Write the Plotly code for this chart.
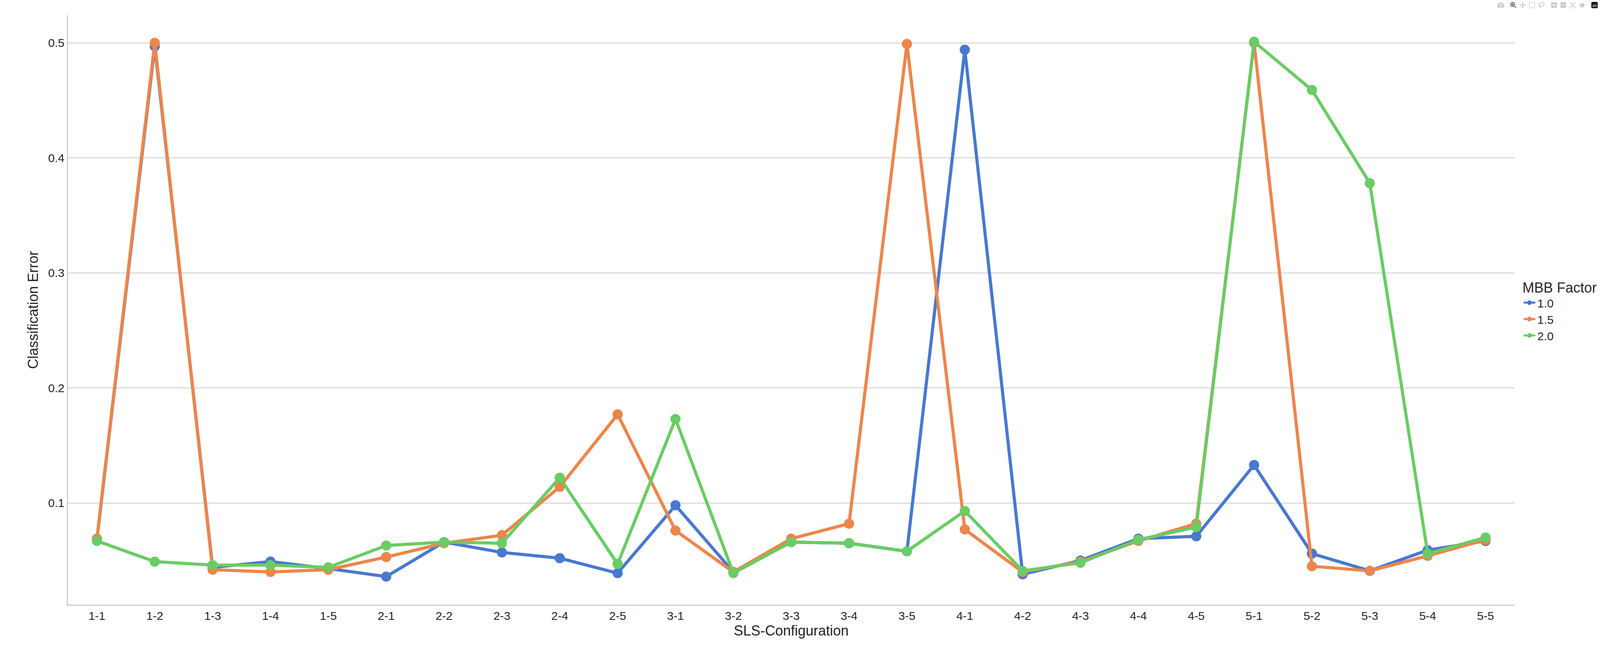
import plotly.graph_objects as go

configs = [f"{a}-{b}" for a in range(1, 6) for b in range(1, 6)]
mbb_1_0 = [0.068, 0.497, 0.044, 0.049, 0.043, 0.036, 0.066, 0.057, 0.052, 0.039, 0.098, 0.040, 0.066, 0.065, 0.058, 0.494, 0.038, 0.050, 0.069, 0.071, 0.133, 0.056, 0.041, 0.059, 0.067]
mbb_1_5 = [0.069, 0.500, 0.042, 0.040, 0.042, 0.053, 0.065, 0.072, 0.114, 0.177, 0.076, 0.040, 0.069, 0.082, 0.499, 0.077, 0.040, 0.049, 0.067, 0.082, 0.500, 0.045, 0.041, 0.054, 0.068]
mbb_2_0 = [0.067, 0.049, 0.046, 0.046, 0.044, 0.063, 0.066, 0.065, 0.122, 0.047, 0.173, 0.039, 0.066, 0.065, 0.058, 0.093, 0.041, 0.048, 0.068, 0.079, 0.501, 0.459, 0.378, 0.056, 0.070]
series = [("1.0", mbb_1_0, "#4878d0"), ("1.5", mbb_1_5, "#ee854a"), ("2.0", mbb_2_0, "#6acc64")]

fig = go.Figure()
for name, vals, col in series:
    fig.add_trace(go.Scatter(x=configs, y=vals, name=name, mode="lines+markers",
                             line=dict(color=col, width=8), marker=dict(color=col, size=26)))

fig.update_layout(
    autosize=True, plot_bgcolor="white", paper_bgcolor="white",
    font=dict(family="Liberation Sans, Arial", size=30, color="#262626"),
    margin=dict(l=174, r=219, t=39, b=134, autoexpand=False),
    legend=dict(x=1.005, xanchor="left", y=0.5, yanchor="middle", title=dict(text="MBB Factor"),
                font=dict(size=30), itemsizing="constant"),
)
fig.update_xaxes(title=dict(text="SLS-Configuration", standoff=10), range=[-0.5, 24.5],
                 showline=True, linecolor="#cccccc", linewidth=3, showgrid=False, ticks="")
fig.update_yaxes(title=dict(text="Classification Error"), range=[0.0116, 0.524],
                 tickvals=[0.1, 0.2, 0.3, 0.4, 0.5], showline=True, linecolor="#cccccc", linewidth=3,
                 showgrid=True, gridcolor="#cccccc", gridwidth=2, zeroline=False, ticks="")
post = ("document.body.style.margin='0';document.body.style.overflow='hidden';"
        "var gd=document.getElementById('{plot_id}');Plotly.Plots.resize(gd);")
fig.write_html("out.html", default_width="100vw", default_height="100vh", post_script=post)
